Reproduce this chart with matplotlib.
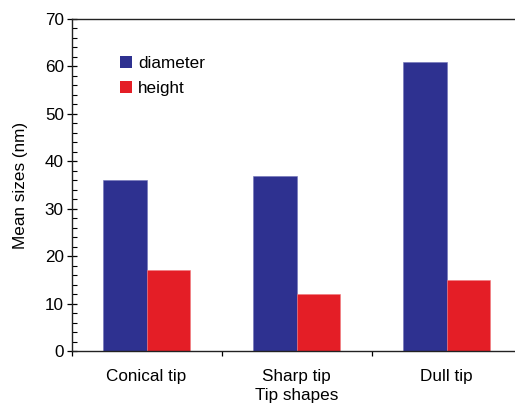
import matplotlib
matplotlib.use("Agg")
import matplotlib.pyplot as plt
from matplotlib.patches import Patch

plt.rcParams["font.family"] = ["Liberation Sans", "DejaVu Sans"]

# data
categories = ["Conical tip", "Sharp tip", "Dull tip"]
diameter = [36, 37, 61]
height = [17, 12, 15]

BLUE = "#2E3190"
RED = "#E41E26"
FS = 12.3

fig = plt.figure(figsize=(5.15, 4.03), dpi=100)
ax = fig.add_axes([71.5 / 515, 52 / 403, 450 / 515, 332 / 403])

x = list(range(len(categories)))
w = 0.29
ax.bar([i - w / 2 for i in x], diameter, width=w, color=BLUE,
       edgecolor="#6f72b8", linewidth=0.4)
ax.bar([i + w / 2 for i in x], height, width=w, color=RED,
       edgecolor="#f07a7e", linewidth=0.4)

ax.set_xlim(-0.5, len(categories) - 0.5)
ax.set_ylim(0, 70)

# y axis
ax.set_yticks(range(0, 71, 10))
ax.set_yticks(range(0, 71, 2), minor=True)
ax.tick_params(axis="y", which="major", direction="inout", length=7,
               width=0.9, labelsize=FS, pad=2)
ax.tick_params(axis="y", which="minor", direction="in", length=3.5, width=0.8)

# x axis: ticks at category boundaries, labels at centres
ax.set_xticks([i - 0.5 for i in range(len(categories) + 1)])
ax.set_xticklabels([])
ax.set_xticks(x, minor=True)
ax.set_xticklabels(categories, minor=True)
ax.tick_params(axis="x", which="major", direction="out", length=3.5, width=0.9)
ax.tick_params(axis="x", which="minor", length=0, labelsize=FS, pad=13)

ax.spines["right"].set_visible(False)
for s in ("left", "bottom", "top"):
    ax.spines[s].set_linewidth(1.0)
    ax.spines[s].set_color("#222222")

ax.set_ylabel("Mean sizes (nm)", fontsize=FS, labelpad=12)
ax.set_xlabel("Tip shapes", fontsize=FS, labelpad=2.5)

handles = [Patch(facecolor=BLUE, label="diameter"),
           Patch(facecolor=RED, label="height")]
ax.legend(handles=handles, frameon=False, loc="upper left",
          bbox_to_anchor=(0.108, 0.89), borderaxespad=0, borderpad=0,
          handlelength=0.7, handleheight=0.7, handletextpad=0.35,
          labelspacing=0.6, fontsize=FS)

fig.savefig("out.png", dpi=100, facecolor="white")
